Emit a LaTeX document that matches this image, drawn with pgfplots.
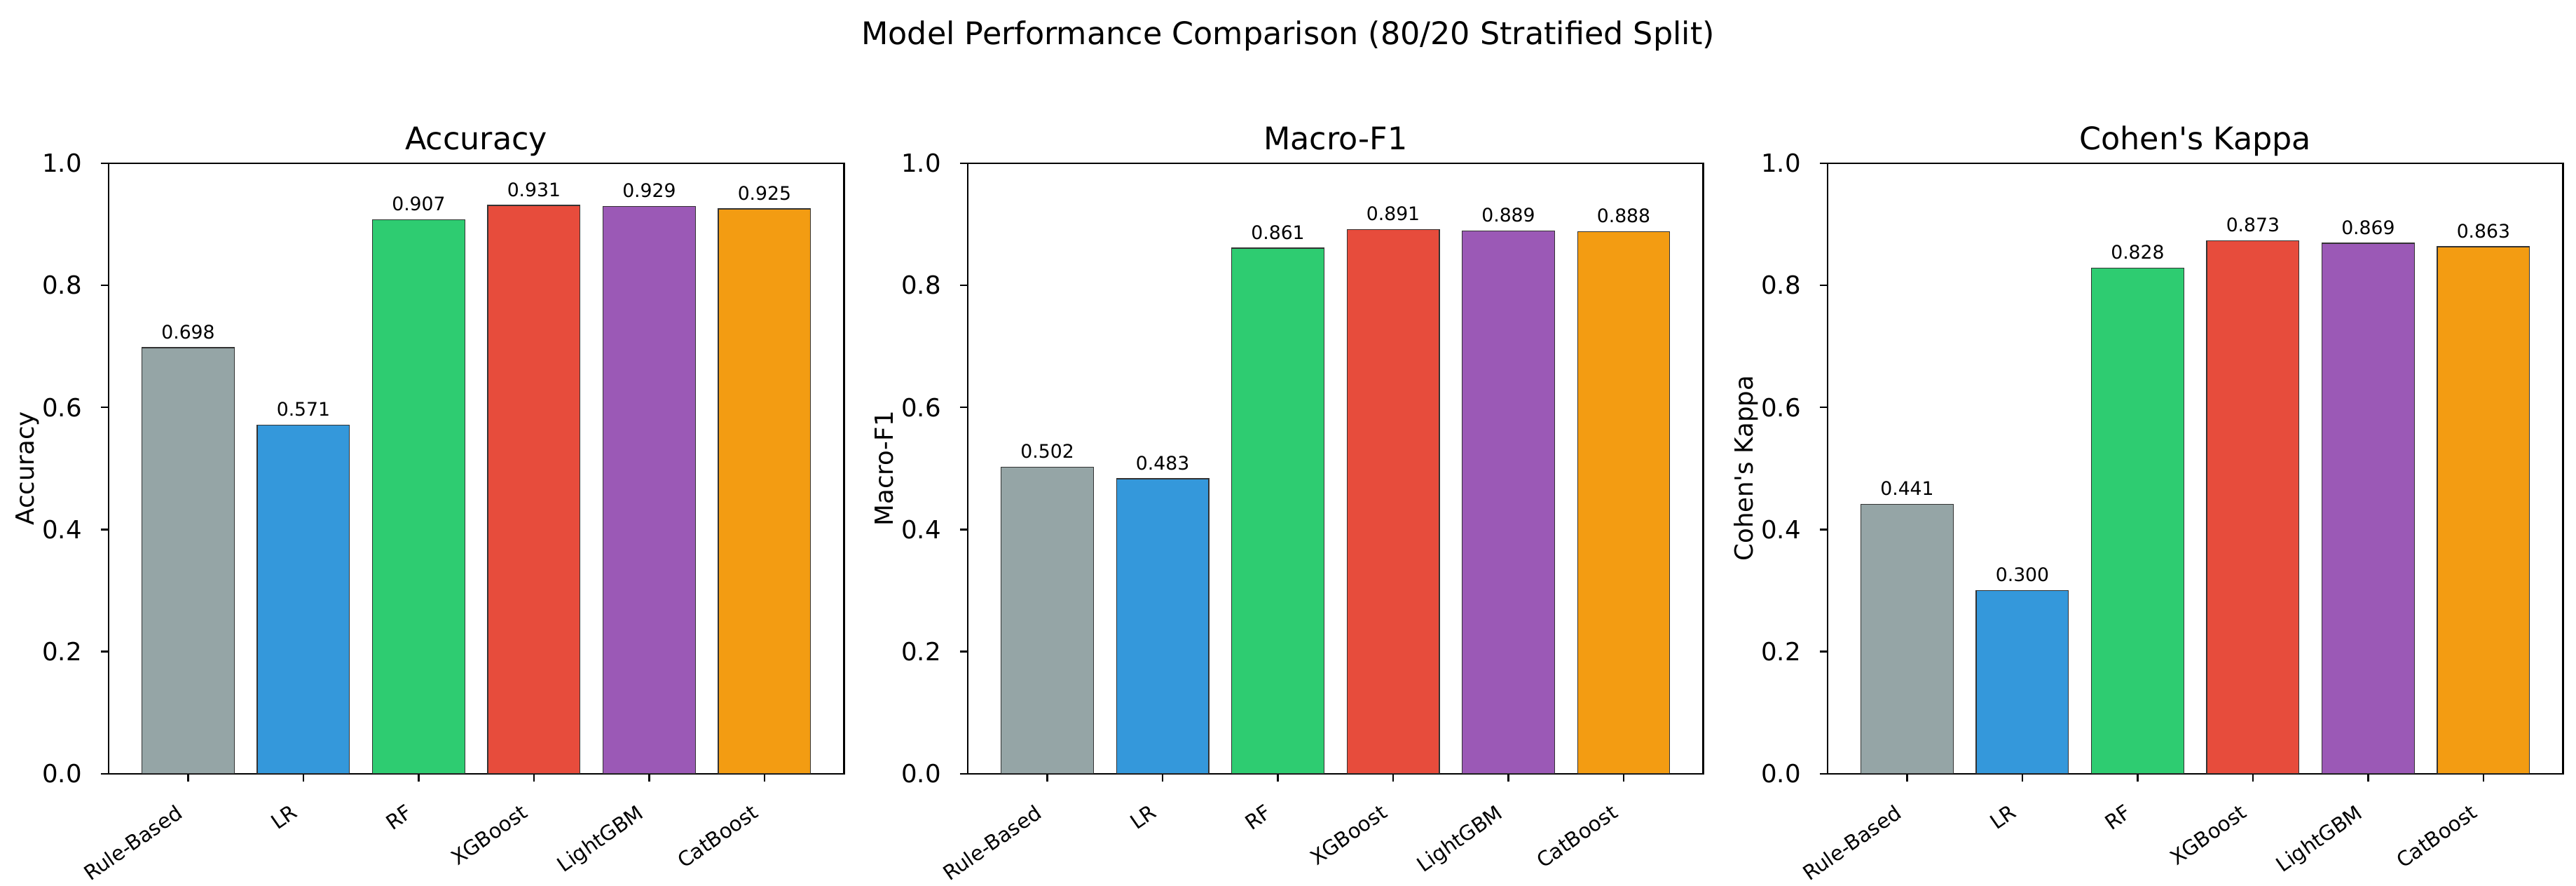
\documentclass[border=0pt]{standalone}
\usepackage{fontspec}
\setmainfont{DejaVu Sans}
\usepackage{pgfplots}
\pgfplotsset{compat=1.18}

\definecolor{cRule}{HTML}{95A5A6}
\definecolor{cLR}{HTML}{3498DB}
\definecolor{cRF}{HTML}{2ECC71}
\definecolor{cXGB}{HTML}{E74C3C}
\definecolor{cLGBM}{HTML}{9B59B6}
\definecolor{cCat}{HTML}{F39C12}

\newcommand\titlefont{\fontsize{16}{19}\selectfont}
\newcommand\tickfont{\fontsize{12.8}{15}\selectfont}
\newcommand\xfont{\fontsize{10.5}{12.5}\selectfont}
\newcommand\barfont{\fontsize{9.6}{11.5}\selectfont}

\pgfplotsset{
  perf/.style={
    scale only axis,
    width=377.8pt, height=313.6pt,
    anchor=south west,
    xmin=-0.69, xmax=5.69, ymin=0, ymax=1,
    xtick={0,1,2,3,4,5},
    xticklabels={Rule-Based,LR,RF,XGBoost,LightGBM,CatBoost},
    ytick={0,0.2,0.4,0.6,0.8,1.0},
    yticklabel style={/pgf/number format/fixed, /pgf/number format/fixed zerofill,
      /pgf/number format/precision=1, /pgf/number format/assume math mode=true,
      font=\tickfont, anchor=east, inner sep=0pt, xshift=-9.7pt},
    xticklabel style={font=\xfont, inner sep=0pt, xshift=-6.8pt, yshift=-11.2pt, rotate=35, anchor=north east},
    tick pos=left,
    tick align=outside,
    major tick length=3.85pt,
    every tick/.style={black, line width=0.85pt},
    axis line style={line width=0.85pt},
    every axis title/.style={at={([yshift=6.8pt]axis description cs:0.5,1)}, anchor=base, font=\titlefont},
    every axis y label/.style={at={([xshift=-38.5pt]axis description cs:0,0.5)}, rotate=90, anchor=base, font=\tickfont},
  },
  bar/.style={
    ybar, bar width=0.8, bar shift=0pt,
    draw=black!80, line width=0.5pt, fill=#1,
    nodes near coords={\pgfmathprintnumber[fixed, fixed zerofill, precision=3, assume math mode=true]{\pgfplotspointmeta}},
    every node near coord/.append style={font=\barfont, text=black, anchor=base, inner sep=0pt, yshift=4.6pt},
  },
}

\begin{document}
\begin{tikzpicture}
\useasboundingbox (0,0) rectangle (1323.4pt,455pt);
\node[font=\titlefont, anchor=base] at (661.7pt,432.3pt) {Model Performance Comparison (80/20 Stratified Split)};

\begin{axis}[perf, at={(55.8pt,57.6pt)}, title={Accuracy}, ylabel={Accuracy}]
  \addplot[bar=cRule] coordinates {(0,0.698)};
  \addplot[bar=cLR]   coordinates {(1,0.571)};
  \addplot[bar=cRF]   coordinates {(2,0.907)};
  \addplot[bar=cXGB]  coordinates {(3,0.931)};
  \addplot[bar=cLGBM] coordinates {(4,0.929)};
  \addplot[bar=cCat]  coordinates {(5,0.925)};
\end{axis}

\begin{axis}[perf, at={(497.2pt,57.6pt)}, title={Macro-F1}, ylabel={Macro-F1}]
  \addplot[bar=cRule] coordinates {(0,0.502)};
  \addplot[bar=cLR]   coordinates {(1,0.483)};
  \addplot[bar=cRF]   coordinates {(2,0.861)};
  \addplot[bar=cXGB]  coordinates {(3,0.891)};
  \addplot[bar=cLGBM] coordinates {(4,0.889)};
  \addplot[bar=cCat]  coordinates {(5,0.888)};
\end{axis}

\begin{axis}[perf, at={(938.9pt,57.6pt)}, title={Cohen\textquotesingle s Kappa}, ylabel={Cohen\textquotesingle s Kappa}]
  \addplot[bar=cRule] coordinates {(0,0.441)};
  \addplot[bar=cLR]   coordinates {(1,0.300)};
  \addplot[bar=cRF]   coordinates {(2,0.828)};
  \addplot[bar=cXGB]  coordinates {(3,0.873)};
  \addplot[bar=cLGBM] coordinates {(4,0.869)};
  \addplot[bar=cCat]  coordinates {(5,0.863)};
\end{axis}
\end{tikzpicture}
\end{document}
